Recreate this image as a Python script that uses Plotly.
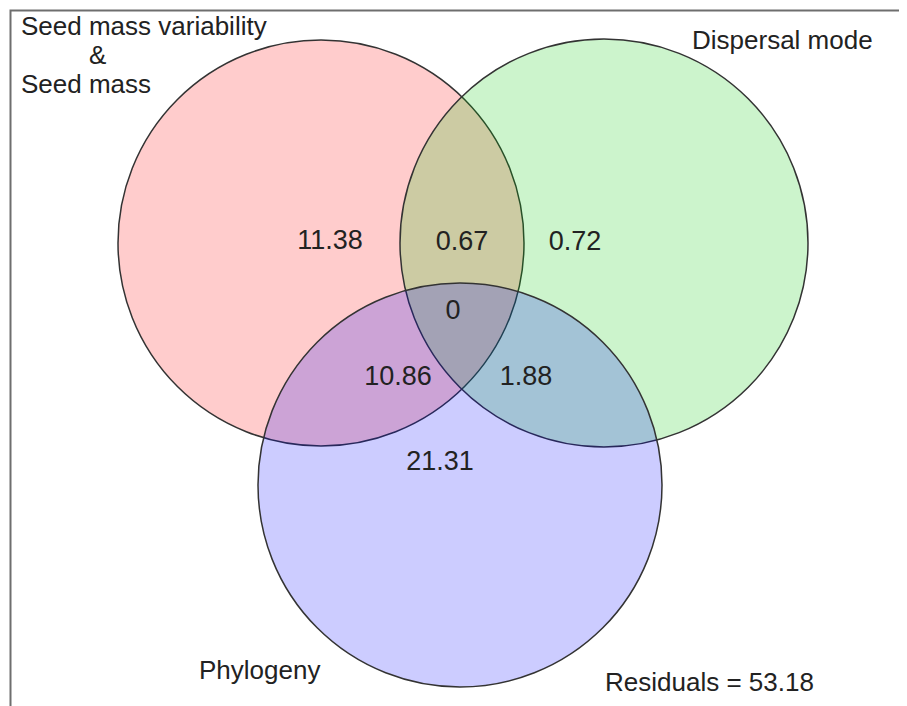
import plotly.graph_objects as go

# Region values (Venn partition percentages)
region_labels = ["11.38", "0.67", "0.72", "0", "10.86", "1.88", "21.31"]
set_names = ["Seed mass variability", "&", "Seed mass", "Dispersal mode", "Phylogeny"]
residuals = 53.18

# Circle geometry (data coords = window pixel units)
circle_cx = [321, 604, 460]
circle_cy = [243, 243, 485]
circle_r = [203, 204, 202]
circle_fill = ["rgba(255,0,0,0.2)", "rgba(0,200,0,0.2)", "rgba(0,0,255,0.2)"]

# Label anchor positions
region_x = [330, 462, 575, 453, 398, 526, 440]
region_y = [242, 243, 243, 312, 378, 378, 463]

W, H = 907, 706
OFF = 8  # page body margin
fig = go.Figure()

shapes = []
# border (left + top)
shapes.append(dict(type="path", path=f"M 10.5 {H+20} L 10.5 10.5 L {W+20} 10.5",
                   xref="x", yref="y", line=dict(color="#6e6e6e", width=2), layer="below"))
for cx, cy, r, fc in zip(circle_cx, circle_cy, circle_r, circle_fill):
    shapes.append(dict(type="circle", xref="x", yref="y",
                       x0=cx - r, x1=cx + r, y0=cy - r, y1=cy + r,
                       fillcolor=fc, line=dict(color="#333333", width=1.5),
                       layer="below"))

font = dict(family="Liberation Sans, Arial, sans-serif", size=27, color="#222222")
font_n = dict(family="Liberation Sans, Arial, sans-serif", size=26, color="#222222")

fig.add_trace(go.Scatter(x=region_x, y=region_y, mode="text", text=region_labels,
                         textfont=font, hoverinfo="skip", showlegend=False,
                         cliponaxis=False))

anns = [
    (set_names[0], 19, 26, "left"),
    (set_names[1], 97, 55, "center"),
    (set_names[2], 19, 84, "left"),
    (set_names[3], 782, 40, "center"),
    (set_names[4], 259, 670, "center"),
    (f"Residuals = {residuals}", 709, 682, "center"),
]
for txt, x, y, al in anns:
    fig.add_annotation(x=x, y=y, text=txt, showarrow=False, xanchor=al,
                       yanchor="middle", font=font_n, xref="x", yref="y")

fig.update_layout(
    width=W - OFF, height=H - OFF, margin=dict(l=0, r=0, t=0, b=0),
    paper_bgcolor="white", plot_bgcolor="white",
    shapes=shapes,
    xaxis=dict(range=[OFF, W], visible=False, fixedrange=True),
    yaxis=dict(range=[H, OFF], visible=False, fixedrange=True),
)
fig.write_html("out.html")
